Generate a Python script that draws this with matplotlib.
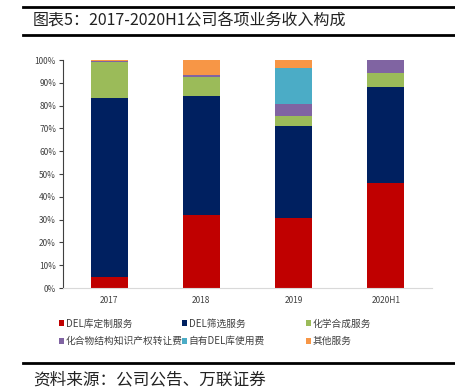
import matplotlib
matplotlib.use("Agg")
import matplotlib.pyplot as plt
from matplotlib.lines import Line2D
from matplotlib.ticker import PercentFormatter
import numpy as np

plt.rcParams['font.family'] = ['Noto Sans CJK SC', 'DejaVu Sans']

categories = ['2017', '2018', '2019', '2020H1']
series_names = ['DEL库定制服务', 'DEL筛选服务', '化学合成服务',
                '化合物结构知识产权转让费', '自有DEL库使用费', '其他服务']
del_custom = [4.7, 32.0, 30.9, 46.0]
del_screen = [78.5, 52.4, 40.1, 42.0]
chem_synth = [16.0, 8.2, 4.6, 6.4]
ip_transfer = [0.4, 1.0, 5.0, 5.6]
own_del = [0.0, 0.0, 16.0, 0.0]
other = [0.4, 6.4, 3.4, 0.0]
colors = ['#C00000', '#002060', '#9BBB59', '#8064A2', '#4BACC6', '#F79646']
yticks = [0, 10, 20, 30, 40, 50, 60, 70, 80, 90, 100]

fig = plt.figure(figsize=(4.55, 3.92), dpi=100)
W, H = 455, 392
ax = fig.add_axes([63 / W, 1 - 288 / H, (432 - 63) / W, (288 - 60) / H])

x = np.arange(len(categories))
bottom = np.zeros(len(categories))
handles = []
for name, vals, c in zip(series_names,
                         [del_custom, del_screen, chem_synth, ip_transfer, own_del, other],
                         colors):
    b = ax.bar(x, vals, width=0.4, bottom=bottom, color=c, label=name,
               edgecolor='none')
    bottom += np.array(vals)
    handles.append(b)

ax.set_xlim(-0.5, 3.5)
ax.set_ylim(0, 100)
ax.set_yticks(yticks)
ax.yaxis.set_major_formatter(PercentFormatter(decimals=0))
ax.set_xticks(x)
ax.set_xticklabels(categories)
ax.tick_params(axis='y', direction='out', length=3, width=0.8, color='#404040',
               labelsize=6, labelcolor='#404040', pad=2)
ax.tick_params(axis='x', length=0, labelsize=6, labelcolor='#404040', pad=6)
for s in ['top', 'right']:
    ax.spines[s].set_visible(False)
ax.spines['left'].set_color('#404040')
ax.spines['left'].set_linewidth(0.8)
ax.spines['bottom'].set_color('#D9D9D9')
ax.spines['bottom'].set_linewidth(0.8)

# Legend: three single-column legends placed at the reference column positions
col_x = [51, 174, 298]
for j in range(3):
    leg = fig.legend(handles=[handles[j], handles[j + 3]],
                     labels=[series_names[j], series_names[j + 3]], ncol=1,
                     loc='upper left', bbox_to_anchor=(col_x[j] / W, 1 - 311 / H),
                     frameon=False, fontsize=7, handlelength=0.55, handleheight=0.55,
                     handletextpad=0.15, labelspacing=0.75, borderpad=0.3)
    for t in leg.get_texts():
        t.set_color('#404040')

# Header lines and title
fig.add_artist(Line2D([23 / W, 1], [1 - 7 / H, 1 - 7 / H], color='black', lw=2))
fig.add_artist(Line2D([23 / W, 1], [1 - 34.5 / H, 1 - 34.5 / H], color='black', lw=2))
fig.text(33 / W, 1 - 21 / H, '图表5：2017-2020H1公司各项业务收入构成', fontsize=11.5,
         color='#222222', va='center', ha='left')

# Footer
fig.add_artist(Line2D([23 / W, 1], [1 - 363 / H, 1 - 363 / H], color='black', lw=2))
fig.text(33 / W, 1 - 380 / H, '资料来源：公司公告、万联证券', fontsize=12,
         color='#222222', va='center', ha='left', style='italic')

fig.savefig('out.png', dpi=100)
